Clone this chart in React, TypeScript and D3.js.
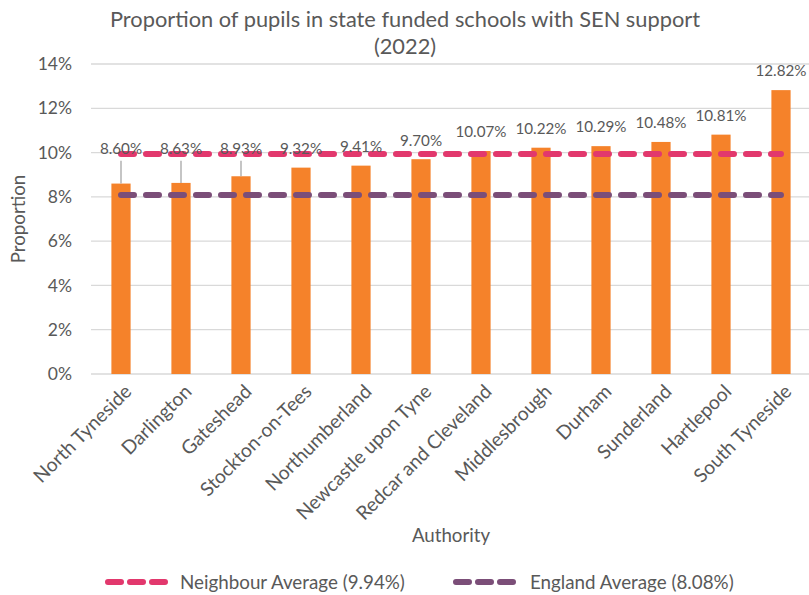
import React from "react";
import * as d3 from "d3";

const authorities = [
  "North Tyneside",
  "Darlington",
  "Gateshead",
  "Stockton-on-Tees",
  "Northumberland",
  "Newcastle upon Tyne",
  "Redcar and Cleveland",
  "Middlesbrough",
  "Durham",
  "Sunderland",
  "Hartlepool",
  "South Tyneside",
];
const senSupport = [8.6, 8.63, 8.93, 9.32, 9.41, 9.7, 10.07, 10.22, 10.29, 10.48, 10.81, 12.82];
const neighbourAverage = 9.94;
const englandAverage = 8.08;
const yTicks = [0, 2, 4, 6, 8, 10, 12, 14];

const W = 809;
const H = 595;
const FONT = "Lato, sans-serif";
const GREY = "#595959";
const ORANGE = "#F5822A";
const PINK = "#E2386D";
const PURPLE = "#7B4E78";

const App = () => {
  const x = d3.scaleBand<string>().domain(authorities).range([91, 811]).paddingInner(0.68).paddingOuter(0.34);
  const y = d3.scaleLinear().domain([0, 14]).range([374, 64]);
  const cx = (name: string) => (x(name) as number) + x.bandwidth() / 2;

  const avgLine = d3
    .line<string>()
    .x(d => cx(d));

  // labels that would sit on the averages get lifted, with a leader line
  const liftTo = y(9.32);

  return (
    <svg width={W} height={H} style={{ position: "absolute", left: 0, top: 0 }} fontFamily={FONT}>
      <rect width={W} height={H} fill="#fff" />
      <text x={405} y={19} dy="0.35em" textAnchor="middle" fontSize={21.8} fill={GREY}>
        Proportion of pupils in state funded schools with SEN support
      </text>
      <text x={405} y={46} dy="0.35em" textAnchor="middle" fontSize={21.8} fill={GREY}>
        (2022)
      </text>

      {yTicks.map(t => (
        <g key={t}>
          <line x1={91} x2={809} y1={y(t)} y2={y(t)} stroke="#d9d9d9" strokeWidth={1.3} />
          <text x={72} y={y(t)} dy="0.35em" textAnchor="end" fontSize={17.5} fill={GREY}>
            {t}%
          </text>
        </g>
      ))}

      {authorities.map((a, i) => (
        <rect
          key={a}
          x={x(a)}
          y={y(senSupport[i])}
          width={x.bandwidth()}
          height={y(0) - y(senSupport[i])}
          fill={ORANGE}
        />
      ))}

      <path
        d={avgLine.y(() => y(neighbourAverage))(authorities) || ""}
        fill="none"
        stroke={PINK}
        strokeWidth={6}
        strokeDasharray="13 12"
        strokeLinecap="round"
      />
      <path
        d={avgLine.y(() => y(englandAverage))(authorities) || ""}
        fill="none"
        stroke={PURPLE}
        strokeWidth={6}
        strokeDasharray="13 12"
        strokeLinecap="round"
      />

      {authorities.map((a, i) => {
        const top = y(senSupport[i]);
        const lifted = top > liftTo + 4;
        const ly = Math.min(top, liftTo) - 19;
        return (
          <g key={a}>
            {lifted && (
              <line x1={cx(a)} x2={cx(a)} y1={ly + 12} y2={top} stroke="#a6a6a6" strokeWidth={1.3} />
            )}
            <text x={cx(a)} y={ly} dy="0.35em" textAnchor="middle" fontSize={15.2} fill={GREY}>
              {senSupport[i].toFixed(2)}%
            </text>
          </g>
        );
      })}

      {authorities.map(a => (
        <text
          key={a}
          transform={`translate(${cx(a) + 7},${388}) rotate(-45)`}
          textAnchor="end"
          dy="0.35em"
          fontSize={19.3}
          fill={GREY}
        >
          {a}
        </text>
      ))}

      <text x={451} y={535} dy="0.35em" textAnchor="middle" fontSize={18.7} fill={GREY}>
        Authority
      </text>
      <text transform={`translate(18,219) rotate(-90)`} dy="0.35em" textAnchor="middle" fontSize={18.7} fill={GREY}>
        Proportion
      </text>

      <g>
        <line x1={108} x2={165} y1={582} y2={582} stroke={PINK} strokeWidth={6} strokeDasharray="13 9" strokeLinecap="round" />
        <text x={180} y={582} dy="0.35em" fontSize={18.8} fill={GREY}>
          Neighbour Average ({neighbourAverage.toFixed(2)}%)
        </text>
        <line x1={456} x2={515} y1={582} y2={582} stroke={PURPLE} strokeWidth={6} strokeDasharray="13 9" strokeLinecap="round" />
        <text x={530} y={582} dy="0.35em" fontSize={18.8} fill={GREY}>
          England Average ({englandAverage.toFixed(2)}%)
        </text>
      </g>
    </svg>
  );
};

export default App;
